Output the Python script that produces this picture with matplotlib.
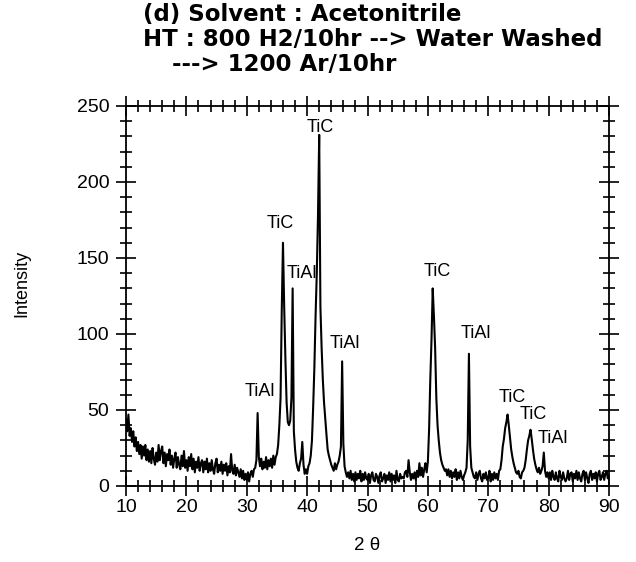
import numpy as np
import matplotlib
matplotlib.use("Agg")
import matplotlib.pyplot as plt
from matplotlib.ticker import MultipleLocator

plt.rcParams['font.family'] = ['Liberation Sans', 'DejaVu Sans']

# XRD scan: 2-theta from 10 to 90 deg, step 0.2 deg
scan_start = 10.0
scan_step = 0.2
intensity = [
    44, 36, 47, 33, 38,   29, 36, 26, 32, 23,   29, 21, 27, 18, 26,   20, 27, 17, 24, 16,   # 10-13.8
    23, 15, 25, 18, 14,   22, 16, 27, 17, 23,   26, 15, 22, 13, 21,   17, 24, 14, 20, 12,   # 14-17.8
    18, 22, 12, 19, 14,   11, 20, 13, 23, 12,   17, 10, 19, 13, 21,   11, 18, 9, 16, 12,    # 18-21.8
    19, 10, 15, 17, 9,    16, 11, 18, 9, 15,    10, 17, 11, 8, 15,    18, 9, 14, 10, 16,    # 22-25.8
    8, 14, 10, 15, 7,     13, 9, 21, 10, 8,     14, 7, 12, 9, 6,      11, 5, 10, 4, 8,      # 26-29.8
    4, 9, 3, 8, 10,       6, 11, 12, 17, 48,    19, 13, 18, 11, 16,   12, 19, 11, 17, 13,   # 30-33.8
    18, 12, 20, 14, 19,   21, 27, 40, 58, 116,  160, 118, 84, 55, 42, 40, 43, 58, 130, 36,  # 34-37.8
    24, 16, 12, 10, 15,   18, 29, 14, 8, 11,    8, 13, 15, 20, 30,    52, 78, 112, 140, 178, # 38-41.8
    231, 118, 91, 70, 55, 44, 34, 24, 20, 17,   14, 12, 10, 15, 11,   14, 16, 20, 26, 82,   # 42-45.8
    28, 13, 9, 6, 9,      5, 10, 4, 8, 3,       9, 4, 8, 5, 10,       3, 8, 4, 9, 5,        # 46-49.8
    4, 8, 2, 7, 9,        4, 3, 8, 6, 2,        7, 9, 3, 5, 8,        2, 7, 4, 9, 3,        # 50-53.8
    8, 4, 7, 2, 10,       4, 3, 8, 5, 6,        5, 9, 10, 6, 17,      9, 4, 8, 5, 9,        # 54-57.8
    4, 10, 6, 15, 7,      12, 6, 11, 15, 9,     16, 37, 70, 96, 130,  112, 91, 58, 40, 30,  # 58-61.8
    22, 17, 14, 12, 10,   11, 7, 11, 6, 10,     5, 9, 6, 11, 4,       9, 5, 10, 6, 4,       # 62-65.8
    7, 9, 12, 30, 87,     26, 12, 9, 6, 5,      9, 4, 8, 10, 5,       3, 8, 5, 9, 4,        # 66-69.8
    5, 10, 3, 8, 4,       9, 5, 8, 4, 10,       11, 17, 26, 31, 38,   42, 47, 40, 32, 24,   # 70-73.8
    19, 15, 12, 9, 8,     10, 6, 5, 9, 10,      12, 17, 24, 30, 33,   37, 31, 24, 18, 14,   # 74-77.8
    11, 9, 12, 8, 10,     13, 22, 10, 6, 9,     5, 9, 4, 10, 6,       4, 9, 5, 3, 10,       # 78-81.8
    6, 4, 9, 5, 3,        5, 10, 4, 8, 9,       3, 8, 5, 10, 4,       9, 5, 3, 8, 10,       # 82-85.8
    4, 9, 5, 2, 8,        10, 4, 8, 5, 9,       3, 8, 10, 4, 6,       9, 4, 8, 10, 5,       # 86-89.8
    7,                                                                                       # 90
]
two_theta = np.round(scan_start + scan_step * np.arange(len(intensity)), 2)

# Peak annotations (label, 2theta, intensity position)
peak_labels = ["TiAl", "TiC", "TiAl", "TiC", "TiAl", "TiC", "TiAl", "TiC", "TiC", "TiAl"]
label_x = [32.2, 35.5, 39.1, 42.1, 46.3, 61.6, 67.9, 73.9, 77.4, 80.7]
label_y = [62.5, 173, 140, 236, 94, 141, 100.5, 58.5, 47, 31.5]

x_ticks = [10, 20, 30, 40, 50, 60, 70, 80, 90]
y_ticks = [0, 50, 100, 150, 200, 250]

title_lines = ["(d) Solvent : Acetonitrile",
               "HT : 800 H2/10hr --> Water Washed",
               "---> 1200 Ar/10hr"]

fig = plt.figure(figsize=(6.36, 5.62), dpi=100)
ax = fig.add_axes([126/636, 1 - 486/562, (609 - 126)/636, (486 - 106)/562])

ax.plot(two_theta, intensity, color='black', lw=1.5)
ax.set_xlim(10, 90)
ax.set_ylim(0, 250)

ax.xaxis.set_major_locator(MultipleLocator(10))
ax.xaxis.set_minor_locator(MultipleLocator(2))
ax.yaxis.set_major_locator(MultipleLocator(50))
ax.yaxis.set_minor_locator(MultipleLocator(10))
ax.set_xticks(x_ticks)
ax.set_yticks(y_ticks)
ax.tick_params(which='both', direction='inout', top=True, right=True,
               width=1.2, colors='black')
ax.tick_params(which='major', length=14)
ax.tick_params(which='minor', length=8)
ax.tick_params(axis='x', which='major', labelsize=14, pad=2)
ax.tick_params(axis='y', which='major', labelsize=14, pad=5)
for s in ax.spines.values():
    s.set_linewidth(1.3)

for lab, lx, ly in zip(peak_labels, label_x, label_y):
    ax.text(lx, ly, lab, ha='center', va='center', fontsize=13)

fig.text(367/636, 1 - 546/562, "2 θ", ha='center', va='center', fontsize=13.5)
fig.text(22/636, 1 - 283/562, "Intensity", ha='center', va='center',
         rotation=90, fontsize=13)

title_font = dict(family=['DejaVu Sans'], fontsize=16.5, fontweight='bold')
fig.text(143/636, 1 - 21/562, title_lines[0], ha='left', va='baseline', **title_font)
fig.text(143/636, 1 - 46/562, title_lines[1], ha='left', va='baseline', **title_font)
fig.text(172/636, 1 - 71/562, title_lines[2], ha='left', va='baseline', **title_font)

fig.savefig("out.png", dpi=100)
